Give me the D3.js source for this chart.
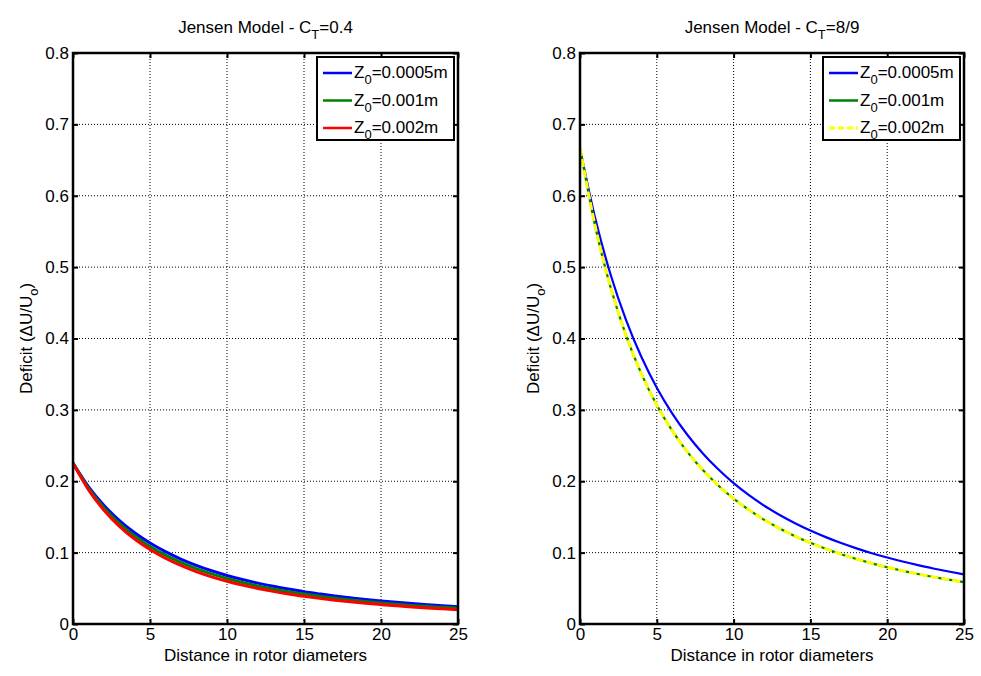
<!DOCTYPE html>
<html>
<head>
<meta charset="utf-8">
<script src="https://cdn.jsdelivr.net/npm/d3@7"></script>
<style>
body { margin: 0; background: #fff; }
text { font-family: Arial, "Liberation Sans", sans-serif; fill: #000; }
</style>
</head>
<body>
<script>
// distance downstream, in rotor diameters
var distance = [0,1,2,3,4,5,6,7,8,9,10,11,12,13,14,15,16,17,18,19,20,21,22,23,24,25];

// C_T = 0.4
var ct04_z1 = [0.2254,0.1925,0.1664,0.1452,0.1278,0.1134,0.1013,0.0910,0.0822,0.0746,0.0680,0.0623,0.0573,
               0.0528,0.0489,0.0453,0.0422,0.0393,0.0368,0.0344,0.0323,0.0304,0.0287,0.0271,0.0256,0.0242];
var ct04_z2 = [0.2254,0.1904,0.1630,0.1411,0.1233,0.1087,0.0965,0.0863,0.0776,0.0702,0.0638,0.0582,0.0533,
               0.0490,0.0452,0.0419,0.0389,0.0362,0.0338,0.0316,0.0296,0.0278,0.0261,0.0246,0.0233,0.0220];
var ct04_z3 = [0.2254,0.1883,0.1597,0.1371,0.1190,0.1043,0.0921,0.0820,0.0734,0.0661,0.0599,0.0545,0.0498,
               0.0457,0.0420,0.0388,0.0359,0.0334,0.0311,0.0290,0.0272,0.0255,0.0239,0.0225,0.0213,0.0201];

// C_T = 8/9
var ct89_z1 = [0.6667,0.5676,0.4890,0.4257,0.3740,0.3311,0.2952,0.2648,0.2389,0.2167,0.1973,0.1805,0.1657,
               0.1527,0.1412,0.1309,0.1217,0.1134,0.1060,0.0992,0.0931,0.0875,0.0824,0.0778,0.0735,0.0696];
var ct89_z2 = [0.6667,0.5562,0.4711,0.4041,0.3505,0.3068,0.2709,0.2409,0.2156,0.1941,0.1757,0.1598,0.1459,
               0.1338,0.1231,0.1137,0.1053,0.0977,0.0910,0.0850,0.0795,0.0745,0.0700,0.0659,0.0622,0.0587];
var ct89_z3 = [0.6667,0.5562,0.4711,0.4041,0.3505,0.3068,0.2709,0.2409,0.2156,0.1941,0.1757,0.1598,0.1459,
               0.1338,0.1231,0.1137,0.1053,0.0977,0.0910,0.0850,0.0795,0.0745,0.0700,0.0659,0.0622,0.0587];

var roughness = ["0.0005m", "0.001m", "0.002m"];
var xTicks = [0, 5, 10, 15, 20, 25];
var yTicks = [0, 0.1, 0.2, 0.3, 0.4, 0.5, 0.6, 0.7, 0.8];

var svg = d3.select("body")
            .append("svg")
            .attr("width", 981)
            .attr("height", 676);

function drawPanel(left, right, ct, series) {
  var top = 53, bottom = 624;

  var xScale = d3.scaleLinear().domain([0, 25]).range([left, right]);
  var yScale = d3.scaleLinear().domain([0, 0.8]).range([bottom, top]);

  var g = svg.append("g");

  // grid
  g.selectAll(".vgrid")
    .data(xTicks.slice(1, -1))
    .enter()
    .append("line")
    .attr("x1", function(d) { return xScale(d); })
    .attr("x2", function(d) { return xScale(d); })
    .attr("y1", top)
    .attr("y2", bottom)
    .attr("stroke", "#000")
    .attr("stroke-width", 1)
    .attr("stroke-dasharray", "1,2");

  g.selectAll(".hgrid")
    .data(yTicks.slice(1, -1))
    .enter()
    .append("line")
    .attr("y1", function(d) { return yScale(d); })
    .attr("y2", function(d) { return yScale(d); })
    .attr("x1", left)
    .attr("x2", right)
    .attr("stroke", "#000")
    .attr("stroke-width", 1)
    .attr("stroke-dasharray", "1,2");

  // curves
  var line = d3.line()
    .x(function(d, i) { return xScale(distance[i]); })
    .y(function(d) { return yScale(d); })
    .curve(d3.curveMonotoneX);

  series.forEach(function(s) {
    g.append("path")
      .attr("d", line(s.values))
      .attr("fill", "none")
      .attr("stroke", s.colour)
      .attr("stroke-width", s.width)
      .attr("stroke-dasharray", s.dash || null);
  });

  // axes, ticks pointing inward on all sides
  g.append("g")
    .attr("transform", "translate(0," + bottom + ")")
    .call(d3.axisBottom(xScale).tickValues(xTicks).tickSizeInner(-5).tickSizeOuter(0).tickPadding(4).tickFormat(d3.format("d")))
    .call(function(a) { a.select(".domain").remove(); a.selectAll("line").attr("stroke-width", 2); a.selectAll("text").style("font-size", "17px").attr("fill", "#000"); });

  g.append("g")
    .attr("transform", "translate(0," + top + ")")
    .call(d3.axisTop(xScale).tickValues(xTicks).tickSizeInner(-5).tickSizeOuter(0).tickFormat(""))
    .call(function(a) { a.select(".domain").remove(); a.selectAll("line").attr("stroke-width", 2); });

  g.append("g")
    .attr("transform", "translate(" + left + ",0)")
    .call(d3.axisLeft(yScale).tickValues(yTicks).tickSizeInner(-5).tickSizeOuter(0).tickPadding(4).tickFormat(function(d) { return d === 0 ? "0" : d3.format(".1f")(d); }))
    .call(function(a) { a.select(".domain").remove(); a.selectAll("line").attr("stroke-width", 2); a.selectAll("text").style("font-size", "17px").attr("fill", "#000"); });

  g.append("g")
    .attr("transform", "translate(" + right + ",0)")
    .call(d3.axisRight(yScale).tickValues(yTicks).tickSizeInner(-5).tickSizeOuter(0).tickFormat(""))
    .call(function(a) { a.select(".domain").remove(); a.selectAll("line").attr("stroke-width", 2); });

  g.append("rect")
    .attr("x", left)
    .attr("y", top)
    .attr("width", right - left)
    .attr("height", bottom - top)
    .attr("fill", "none")
    .attr("stroke", "#000")
    .attr("stroke-width", 2.5);

  // title
  var title = g.append("text")
    .attr("x", (left + right) / 2)
    .attr("y", 33)
    .attr("text-anchor", "middle")
    .style("font-size", "17px");
  title.append("tspan").text("Jensen Model - C");
  title.append("tspan").attr("dy", 6).style("font-size", "13px").text("T");
  title.append("tspan").attr("dy", -6).text("=" + ct);

  // axis labels
  g.append("text")
    .attr("x", (left + right) / 2)
    .attr("y", 661)
    .attr("text-anchor", "middle")
    .style("font-size", "17px")
    .text("Distance in rotor diameters");

  var ylab = g.append("text")
    .attr("transform", "translate(" + (left - 41) + "," + ((top + bottom) / 2) + ") rotate(-90)")
    .attr("text-anchor", "middle")
    .style("font-size", "17px");
  ylab.append("tspan").text("Deficit (\u0394U/U");
  ylab.append("tspan").attr("dy", 6).style("font-size", "13px").text("o");
  ylab.append("tspan").attr("dy", -6).text(")");

  // legend
  var lx = right - 141, ly = top + 4;
  g.append("rect")
    .attr("x", lx)
    .attr("y", ly)
    .attr("width", 137)
    .attr("height", 83)
    .attr("fill", "#fff")
    .attr("stroke", "#000")
    .attr("stroke-width", 2);

  series.forEach(function(s, i) {
    var yy = ly + 16 + i * 27.5;
    g.append("line")
      .attr("x1", lx + 6)
      .attr("x2", lx + 35)
      .attr("y1", yy)
      .attr("y2", yy)
      .attr("stroke", s.colour)
      .attr("stroke-width", s.dash ? 3 : 2.5)
      .attr("stroke-dasharray", s.dash ? "6,3" : null);
    var t = g.append("text")
      .attr("x", lx + 37)
      .attr("y", yy + 5)
      .style("font-size", "17px");
    t.append("tspan").text("Z");
    t.append("tspan").attr("dy", 6).style("font-size", "13px").text("0");
    t.append("tspan").attr("dy", -6).text("=" + roughness[i]);
  });
}

drawPanel(73, 458, "0.4", [
  {values: ct04_z1, colour: "#0000ff", width: 3},
  {values: ct04_z2, colour: "#008000", width: 3},
  {values: ct04_z3, colour: "#ff0000", width: 3}
]);

drawPanel(580, 964, "8/9", [
  {values: ct89_z1, colour: "#0000ff", width: 2.2},
  {values: ct89_z2, colour: "#008000", width: 2.2},
  {values: ct89_z3, colour: "#ffff00", width: 3, dash: "8,3"}
]);
</script>
</body>
</html>
